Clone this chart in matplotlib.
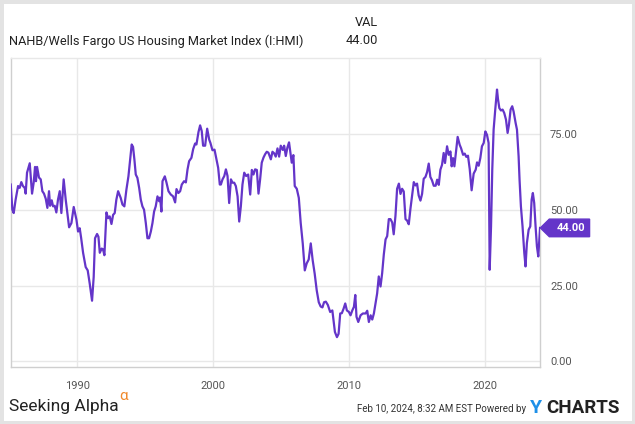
import matplotlib.pyplot as plt
from matplotlib.patches import Polygon, Rectangle

plt.rcParams['font.family'] = ['Roboto', 'DejaVu Sans']

# decimal year / index value
years = [
    1985.09, 1985.21, 1985.31, 1985.45, 1985.63, 1985.75, 1985.87, 1985.99,
    1986.12, 1986.19, 1986.29, 1986.49, 1986.66, 1986.78, 1986.88, 1986.95,
    1987.03, 1987.17, 1987.30, 1987.42, 1987.54, 1987.67, 1987.79, 1987.91,
    1987.99, 1988.11, 1988.21, 1988.33, 1988.45, 1988.57, 1988.70, 1988.82,
    1988.99, 1989.14, 1989.26, 1989.39, 1989.56, 1989.73, 1989.93, 1990.05,
    1990.17, 1990.27, 1990.42, 1990.61, 1990.76, 1990.91, 1991.08, 1991.20,
    1991.30, 1991.45, 1991.55, 1991.65, 1991.79, 1991.89, 1991.99, 1992.14,
    1992.26, 1992.38, 1992.51, 1992.63, 1992.75, 1992.87, 1993.00, 1993.19,
    1993.32, 1993.46, 1993.61, 1993.76, 1993.91, 1994.00, 1994.10, 1994.20,
    1994.30, 1994.42, 1994.55, 1994.67, 1994.79, 1994.91, 1995.04, 1995.16,
    1995.28, 1995.41, 1995.53, 1995.65, 1995.77, 1995.90, 1996.02, 1996.09,
    1996.19, 1996.27, 1996.44, 1996.56, 1996.71, 1996.88, 1997.05, 1997.20,
    1997.30, 1997.44, 1997.57, 1997.69, 1997.86, 1997.99, 1998.11, 1998.23,
    1998.40, 1998.53, 1998.67, 1998.77, 1998.92, 1999.04, 1999.16, 1999.26,
    1999.41, 1999.56, 1999.71, 1999.80, 1999.95, 2000.10, 2000.25, 2000.37,
    2000.49, 2000.57, 2000.69, 2000.82, 2000.94, 2001.06, 2001.18, 2001.31,
    2001.43, 2001.55, 2001.67, 2001.80, 2001.92, 2002.04, 2002.16, 2002.29,
    2002.43, 2002.58, 2002.73, 2002.85, 2002.97, 2003.09, 2003.22, 2003.34,
    2003.46, 2003.58, 2003.71, 2003.83, 2003.95, 2004.07, 2004.25, 2004.37,
    2004.49, 2004.61, 2004.74, 2004.86, 2004.98, 2005.13, 2005.23, 2005.35,
    2005.47, 2005.59, 2005.72, 2005.79, 2005.91, 2006.01, 2006.16, 2006.31,
    2006.45, 2006.60, 2006.75, 2006.89, 2007.04, 2007.19, 2007.33, 2007.48,
    2007.63, 2007.78, 2007.92, 2008.05, 2008.17, 2008.30, 2008.45, 2008.62,
    2008.78, 2008.97, 2009.12, 2009.24, 2009.36, 2009.48, 2009.61, 2009.73,
    2009.85, 2010.00, 2010.12, 2010.25, 2010.37, 2010.47, 2010.56, 2010.69,
    2010.86, 2011.03, 2011.23, 2011.35, 2011.47, 2011.60, 2011.72, 2011.84,
    2011.96, 2012.08, 2012.20, 2012.33, 2012.45, 2012.57, 2012.70, 2012.82,
    2012.94, 2013.06, 2013.19, 2013.30, 2013.43, 2013.55, 2013.68, 2013.80,
    2013.92, 2014.04, 2014.17, 2014.29, 2014.41, 2014.53, 2014.66, 2014.78,
    2014.90, 2015.02, 2015.14, 2015.27, 2015.39, 2015.51, 2015.64, 2015.76,
    2015.88, 2016.00, 2016.12, 2016.25, 2016.39, 2016.50, 2016.62, 2016.74,
    2016.86, 2016.98, 2017.08, 2017.23, 2017.35, 2017.48, 2017.57, 2017.67,
    2017.77, 2017.89, 2018.01, 2018.16, 2018.26, 2018.41, 2018.53, 2018.65,
    2018.77, 2018.90, 2019.04, 2019.19, 2019.34, 2019.44, 2019.56, 2019.68,
    2019.80, 2019.93, 2020.05, 2020.17, 2020.29, 2020.37, 2020.47, 2020.56,
    2020.66, 2020.78, 2020.91, 2020.98, 2021.08, 2021.20, 2021.32, 2021.44,
    2021.57, 2021.69, 2021.79, 2021.91, 2022.03, 2022.13, 2022.28, 2022.38,
    2022.50, 2022.57, 2022.67, 2022.79, 2022.92, 2023.01, 2023.11, 2023.24,
    2023.36, 2023.46, 2023.55, 2023.65, 2023.75, 2023.85, 2023.95, 2024.08,
]
hmi = [
    58.3, 50.0, 48.9, 53.3, 57.8, 57.2, 59.1, 57.8,
    57.2, 55.3, 62.2, 65.3, 55.3, 58.9, 64.1, 59.4,
    64.1, 60.6, 60.0, 56.1, 55.3, 53.6, 50.6, 56.1,
    51.3, 53.1, 51.1, 51.3, 49.1, 53.3, 56.1, 48.9,
    60.0, 53.3, 48.9, 44.2, 45.6, 50.9, 46.7, 42.8,
    43.9, 40.9, 35.8, 31.1, 30.0, 25.6, 20.0, 27.8,
    40.6, 42.0, 41.1, 35.8, 37.2, 36.9, 35.0, 49.1,
    47.2, 47.8, 45.3, 48.3, 48.9, 53.3, 56.1, 53.9,
    51.7, 51.1, 56.6, 61.0, 67.6, 71.5, 70.7, 66.5,
    61.6, 60.5, 57.2, 53.3, 51.1, 50.0, 45.6, 40.6,
    40.6, 42.8, 45.6, 49.4, 51.1, 54.4, 52.8, 54.0,
    49.4, 59.4, 61.0, 59.0, 56.1, 55.0, 54.4, 52.4,
    56.8, 55.5, 56.1, 58.3, 59.4, 59.0, 63.2, 66.0,
    67.1, 70.0, 71.8, 71.5, 75.6, 77.8, 75.9, 71.1,
    71.1, 76.7, 73.1, 72.0, 69.6, 69.8, 66.5, 63.8,
    58.3, 58.3, 60.0, 61.1, 63.3, 61.1, 52.2, 60.0,
    58.9, 58.9, 57.8, 54.4, 46.1, 51.1, 58.3, 62.2,
    61.1, 61.6, 55.0, 63.1, 61.6, 63.3, 63.1, 55.3,
    60.0, 65.5, 67.2, 68.3, 69.1, 68.8, 66.6, 69.1,
    68.6, 67.5, 70.2, 67.5, 71.1, 69.7, 71.1, 67.7,
    70.5, 72.2, 67.7, 65.5, 68.0, 57.8, 56.9, 53.9,
    45.6, 38.9, 30.0, 32.3, 33.6, 38.9, 33.4, 28.9,
    23.4, 19.5, 18.1, 17.8, 19.5, 19.7, 18.6, 16.3,
    16.8, 9.7, 8.0, 9.1, 15.8, 15.9, 17.4, 19.1,
    16.8, 16.3, 15.2, 16.8, 18.0, 21.9, 14.7, 13.0,
    15.2, 15.8, 15.8, 16.7, 13.0, 15.2, 13.8, 15.8,
    19.1, 22.4, 28.0, 24.7, 29.1, 35.2, 40.2, 41.3,
    46.9, 46.9, 45.8, 41.9, 48.0, 56.9, 58.6, 55.2,
    56.9, 56.0, 46.9, 46.4, 45.2, 50.2, 54.7, 59.1,
    58.0, 58.6, 54.7, 53.0, 55.2, 60.2, 60.8, 62.4,
    65.2, 60.8, 59.7, 57.9, 57.9, 59.9, 58.2, 63.2,
    64.8, 68.7, 65.4, 70.9, 68.1, 69.2, 64.3, 67.0,
    64.3, 69.2, 74.0, 71.4, 70.3, 68.1, 68.5, 67.4,
    67.8, 63.4, 56.4, 61.9, 63.2, 65.6, 64.5, 67.0,
    70.9, 72.0, 75.8, 74.7, 72.0, 30.2, 44.5, 63.2,
    76.4, 83.0, 89.6, 86.5, 83.5, 82.7, 83.0, 81.9,
    79.7, 75.3, 78.0, 83.0, 84.1, 82.4, 78.6, 76.4,
    67.6, 59.9, 51.1, 44.5, 35.7, 31.3, 39.0, 43.4,
    44.5, 53.3, 55.5, 52.2, 44.5, 37.9, 34.6, 44.0,
]
x_ticks = [1990, 2000, 2010, 2020]
y_ticks = [0, 25, 50, 75]
last_val = hmi[-1]

line_color = '#6435c9'
grid_color = '#e8e8e8'
frame_color = '#cfcfcf'

fig = plt.figure(figsize=(6.35, 4.24), dpi=100)
ax = fig.add_axes([0.0169, 0.1333, 0.834, 0.7299])

ax.plot(years, hmi, color=line_color, lw=1.6, solid_joinstyle='round', zorder=3)

ax.set_xlim(1985.09, 2024.1)
ax.set_ylim(-2, 100)
ax.set_xticks(x_ticks)
ax.set_xticklabels([str(t) for t in x_ticks])
ax.set_yticks(y_ticks)
ax.set_yticklabels([f'{t:.2f}' for t in y_ticks])
ax.yaxis.tick_right()
ax.tick_params(axis='both', length=0, labelsize=8, labelcolor='#555555')
ax.tick_params(axis='y', pad=7)
ax.tick_params(axis='x', pad=10)
ax.grid(True, color=grid_color, lw=1)
ax.set_axisbelow(True)
for s in ax.spines.values():
    s.set_color(frame_color)
    s.set_linewidth(1)
ax.spines['top'].set_color(grid_color)

# value tag on the right axis
trans = ax.get_yaxis_transform()
tag = Polygon([(1.0, last_val), (1.017, last_val + 2.9), (1.093, last_val + 2.9),
               (1.093, last_val - 2.9), (1.017, last_val - 2.9)],
              closed=True, transform=trans, color=line_color, clip_on=False, zorder=5)
ax.add_patch(tag)
ax.text(1.057, last_val, f'{last_val:.2f}', transform=trans, ha='center', va='center',
        color='white', fontsize=8, fontweight='bold', zorder=6)

# header
fig.text(9 / 635, 1 - 41 / 424, 'NAHB/Wells Fargo US Housing Market Index (I:HMI)',
         fontsize=9.2, color='#222222', va='center', ha='left')
fig.text(378 / 635, 1 - 22 / 424, 'VAL', fontsize=9.2, color='#222222', va='center', ha='right')
fig.text(378 / 635, 1 - 41 / 424, f'{last_val:.2f}', fontsize=9.2, color='#222222',
         va='center', ha='right')

# footer
fig.text(9 / 635, 1 - 407 / 424, 'Seeking Alpha', fontsize=12.5, color='#222222',
         va='center', ha='left')
fig.text(119 / 635, 1 - 396 / 424, 'α', fontsize=11, color='#f0892c', va='center', ha='left')
fig.text(526 / 635, 1 - 409 / 424, 'Feb 10, 2024, 8:32 AM EST Powered by', fontsize=7,
         color='#333333', va='center', ha='right')
fig.text(530 / 635, 1 - 408 / 424, 'Y', fontsize=14, color='#1e90e8', fontweight='bold',
         va='center', ha='left')
fig.text(546 / 635, 1 - 408 / 424, 'CHARTS', fontsize=13.5, color='#222222',
         fontweight='bold', va='center', ha='left')

# outer border
fig.patches.append(Rectangle((0, 0), 1, 1, transform=fig.transFigure, fill=False,
                             edgecolor='#e3e3e3', lw=5))

fig.savefig('out.png', dpi=100)
